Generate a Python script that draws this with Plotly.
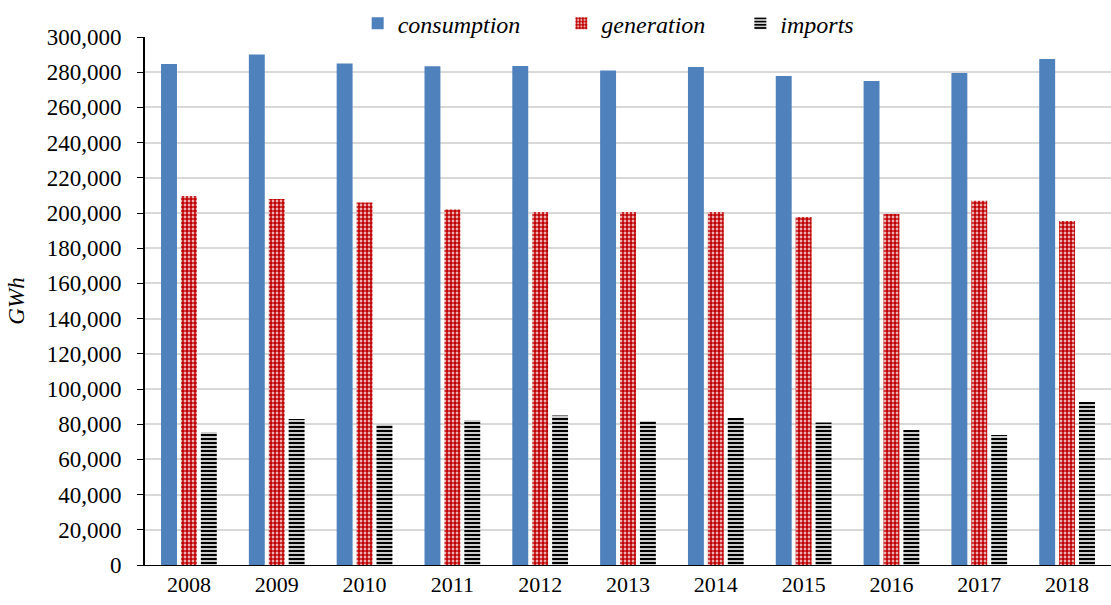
import plotly.graph_objects as go

years = ["2008", "2009", "2010", "2011", "2012", "2013", "2014", "2015", "2016", "2017", "2018"]
consumption = [284700, 290000, 285000, 283400, 283500, 281000, 283000, 277800, 275000, 279500, 287500]
generation = [209700, 208000, 206000, 202000, 200500, 200500, 200500, 197700, 199400, 207000, 195500]
imports = [75600, 83000, 80000, 82400, 85000, 81800, 83500, 81000, 76700, 73900, 92600]

font_family = "Liberation Serif"

fig = go.Figure()
fig.add_trace(go.Bar(name="<i>consumption</i>" + "\u00a0" * 6, x=years, y=consumption,
                     marker=dict(color="#4f81bd", line=dict(width=0))))
fig.add_trace(go.Bar(name="<i>generation</i>" + "\u00a0" * 5, x=years, y=generation,
                     marker=dict(color="white", line=dict(width=0),
                                 pattern=dict(shape=".", fgcolor="#c00000", bgcolor="white",
                                              size=4, solidity=0.75, fgopacity=1))))
fig.add_trace(go.Bar(name="<i>imports</i>", x=years, y=imports,
                     marker=dict(color="white", line=dict(width=0),
                                 pattern=dict(shape="-", fgcolor="black", bgcolor="white",
                                              size=4, solidity=0.6, fgopacity=1))))

fig.update_layout(
    barmode="group", bargap=0.32, bargroupgap=0.2,
    width=1111, height=605,
    margin=dict(l=145, r=0, t=37, b=40),
    plot_bgcolor="white", paper_bgcolor="white",
    font=dict(family=font_family, size=22, color="black"),
    legend=dict(orientation="h", x=0.48, xanchor="center", y=1.068, yanchor="top",
                font=dict(family=font_family, size=24, color="black"),
                itemwidth=30, traceorder="normal"),
    xaxis=dict(showline=True, linecolor="black", linewidth=1, ticks="",
               tickfont=dict(size=22)),
    yaxis=dict(range=[0, 300000], dtick=20000, tickformat=",", showline=True,
               linecolor="black", linewidth=2, ticks="outside", ticklen=6, tickcolor="black",
               gridcolor="#d9d9d9", gridwidth=2, tickfont=dict(size=23),
               ticklabelstandoff=11,
               title=dict(text="<i>GWh</i>", font=dict(size=23), standoff=16)),
)

fig.write_html("out.html")
